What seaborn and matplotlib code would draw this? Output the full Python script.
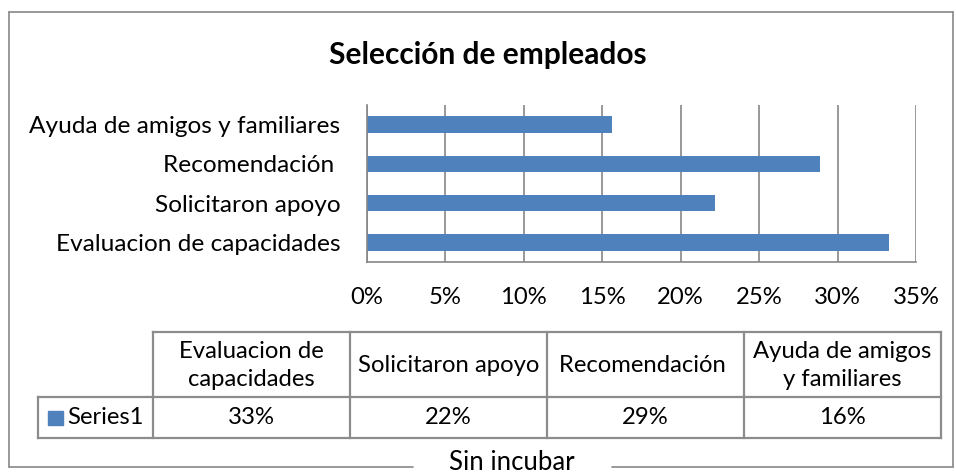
import matplotlib
matplotlib.use("Agg")
import matplotlib.pyplot as plt
import seaborn as sns
import pandas as pd
from matplotlib.patches import Rectangle

# ---- data ----
title = "Selección de empleados"
categories = ["Evaluacion de capacidades", "Solicitaron apoyo",
              "Recomendación ", "Ayuda de amigos y familiares"]
table_headers = ["Evaluacion de\ncapacidades", "Solicitaron apoyo",
                 "Recomendación ", "Ayuda de amigos\ny familiares"]
values = [33.3, 22.2, 28.9, 15.6]          # percent
series_name = "Series1"
x_ticks = [0, 5, 10, 15, 20, 25, 30, 35]
footer = "Sin incubar"

BAR = "#4F81BD"
GRID = "#868686"
LINE = "#8C8C8C"
FS_AX = 17.6
FS_TB = 17.2

sns.set_theme(style="white")
plt.rcParams["font.family"] = ["Lato", "DejaVu Sans"]

W, H = 956, 476
fig = plt.figure(figsize=(W / 100, H / 100), dpi=100)

# pixel-unit canvas for the frame and the data table
bg = fig.add_axes([0, 0, 1, 1])
bg.set_xlim(0, W)
bg.set_ylim(H, 0)
bg.axis("off")

# ---- bar chart ----
ax = fig.add_axes([367 / W, 1 - 262 / H, (916 - 367) / W, (262 - 105) / H])
df = pd.DataFrame({"cat": categories, "val": values})
sns.barplot(data=df, y="cat", x="val", order=categories[::-1], orient="h",
            color=BAR, saturation=1, width=0.42, linewidth=0, ax=ax)
ax.set_xlim(0, 35)
ax.set_xticks(x_ticks)
ax.set_xticklabels([f"{t}%" for t in x_ticks], fontsize=FS_TB)
ax.set_yticks(range(len(categories)))
ax.set_yticklabels(categories[::-1], fontsize=FS_AX)
ax.set_xlabel("")
ax.set_ylabel("")
ax.grid(axis="x", color=GRID, linewidth=1.2)
ax.grid(axis="y", visible=False)
ax.set_axisbelow(True)
for s in ["top", "right"]:
    ax.spines[s].set_visible(False)
for s in ["left", "bottom"]:
    ax.spines[s].set_color(GRID)
    ax.spines[s].set_linewidth(1.2)
ax.tick_params(axis="x", length=0, pad=18, colors="black")
ax.tick_params(axis="y", length=0, pad=19, colors="black")
ax.set_facecolor("none")

# ---- title ----
bg.text(488, 55, title, ha="center", va="center", fontsize=21.5,
        fontweight="bold", color="black")

# ---- data table ----
col_left, col_w = 153, 197
row_top, row_mid, row_bot = 332, 397, 438
table_left = 38
right = col_left + col_w * len(categories)
kw = dict(color=LINE, linewidth=1.6, solid_capstyle="projecting")
bg.plot([col_left, right], [row_top, row_top], **kw)
bg.plot([table_left, right], [row_mid, row_mid], **kw)
bg.plot([table_left, right], [row_bot, row_bot], **kw)
bg.plot([table_left, table_left], [row_mid, row_bot], **kw)
for i in range(len(categories) + 1):
    x = col_left + col_w * i
    bg.plot([x, x], [row_top, row_bot], **kw)

for i, (hdr, v) in enumerate(zip(table_headers, values)):
    cx = col_left + col_w * (i + 0.5)
    bg.text(cx, (row_top + row_mid) / 2 + 1, hdr, ha="center", va="center",
            fontsize=FS_TB, linespacing=1.4, color="black")
    bg.text(cx, (row_mid + row_bot) / 2, f"{round(v)}%", ha="center",
            va="center", fontsize=FS_TB, color="black")

bg.add_patch(Rectangle((48, 411), 15, 14, color=BAR))
bg.text(67, (row_mid + row_bot) / 2, series_name, ha="left", va="center",
        fontsize=FS_TB, color="black")

# ---- outer frame with footer caption ----
fkw = dict(color="#888888", linewidth=1.2)
bg.plot([9, 953], [12, 12], **fkw)
bg.plot([9, 9], [12, 467], **fkw)
bg.plot([953, 953], [12, 467], **fkw)
bg.plot([9, 413], [467, 467], **fkw)
bg.plot([612, 953], [467, 467], **fkw)
bg.text(512, 470, footer, ha="center", va="baseline", fontsize=18.5,
        color="black")

fig.savefig("out.png", dpi=100, facecolor="white")
